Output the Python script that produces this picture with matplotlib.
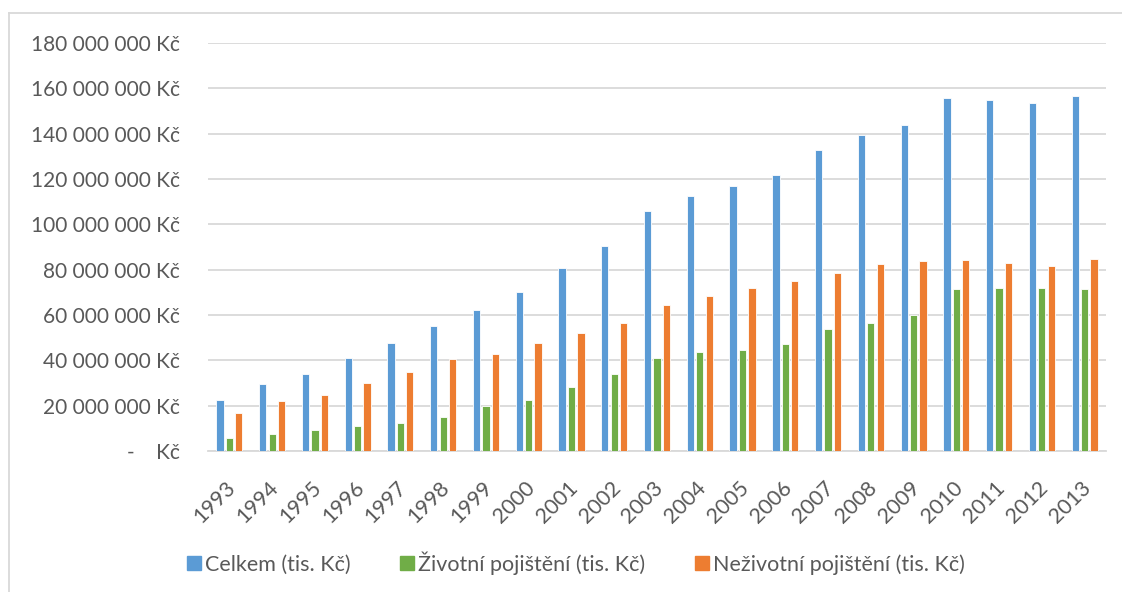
import numpy as np
import matplotlib.pyplot as plt
import matplotlib.transforms as mtransforms
from matplotlib.ticker import FuncFormatter
from matplotlib.lines import Line2D

plt.rcParams['font.family'] = ['Lato', 'DejaVu Sans']

years = [str(y) for y in range(1993, 2014)]
celkem = [22.5, 29.6, 34.0, 41.0, 47.7, 55.2, 62.3, 70.2, 80.8, 90.5, 106.0,
          112.6, 116.9, 121.9, 132.9, 139.6, 143.9, 155.9, 155.0, 153.5, 156.4]
zivotni = [5.7, 7.5, 9.3, 11.0, 12.4, 15.0, 19.9, 22.5, 28.3, 34.0, 41.0,
           43.8, 44.7, 47.1, 54.0, 56.6, 60.0, 71.5, 71.8, 72.0, 71.4]
nezivotni = [16.8, 22.0, 24.7, 30.0, 34.9, 40.6, 42.8, 47.7, 52.1, 56.5, 64.5,
             68.3, 72.0, 74.9, 78.7, 82.7, 83.8, 84.2, 83.0, 81.4, 84.8]
series_names = ['Celkem (tis. Kč)', 'Životní pojištění (tis. Kč)', 'Neživotní pojištění (tis. Kč)']
colors = ['#5B9BD5', '#70AD47', '#ED7D31']
text_col = '#595959'

fig = plt.figure(figsize=(11.22, 5.92), dpi=100)
ax = fig.add_axes([208 / 1122, 1 - 451 / 592, (1106 - 208) / 1122, (451 - 43) / 592])

x = np.arange(len(years))
w = 0.17
step = 0.22
for i, vals in enumerate([celkem, zivotni, nezivotni]):
    ax.bar(x + (i - 1) * step, np.array(vals) * 1e6, width=w, color=colors[i],
           edgecolor='white', linewidth=0.6, zorder=3, label=series_names[i])

ax.set_xlim(-0.5, len(years) - 0.5)
ax.set_ylim(0, 180e6)
ax.set_yticks(np.arange(0, 180e6 + 1, 20e6))


def kc(v, pos):
    if v == 0:
        return '-    Kč'
    return '{:,.0f} Kč'.format(v).replace(',', ' ')


ax.yaxis.set_major_formatter(FuncFormatter(kc))
ax.grid(axis='y', color='#d9d9d9', linewidth=1.3, zorder=0)
for s in ['top', 'right', 'left']:
    ax.spines[s].set_visible(False)
ax.spines['bottom'].set_color('#d9d9d9')
ax.spines['bottom'].set_linewidth(1.3)
ax.tick_params(axis='both', length=0, colors=text_col, labelsize=15)
ax.tick_params(axis='y', pad=20)
ax.set_xticks(x)
ax.set_xticklabels(years, rotation=45, ha='right', rotation_mode='anchor', fontsize=15.5)
ax.tick_params(axis='x', pad=19)
# nudge the slanted year labels a little to the left
shift = mtransforms.ScaledTranslation(-4 / 100, 0, fig.dpi_scale_trans)
for lbl in ax.get_xticklabels():
    lbl.set_transform(lbl.get_transform() + shift)

handles = [plt.Rectangle((0, 0), 1, 1, color=c) for c in colors]
fig.legend(handles, series_names, loc='center', bbox_to_anchor=(576 / 1122, 1 - 563 / 592),
           ncol=3, frameon=False, fontsize=15.5, labelcolor=text_col,
           handlelength=0.65, handleheight=0.65, handletextpad=0.2, columnspacing=2.3)

# outer chart border
fig.add_artist(Line2D([9 / 1122, 9 / 1122], [0, 1 - 13 / 592], color='#d9d9d9', lw=1.3))
fig.add_artist(Line2D([9 / 1122, 1], [1 - 13 / 592, 1 - 13 / 592], color='#d9d9d9', lw=1.3))

fig.savefig('out.png', dpi=100)
